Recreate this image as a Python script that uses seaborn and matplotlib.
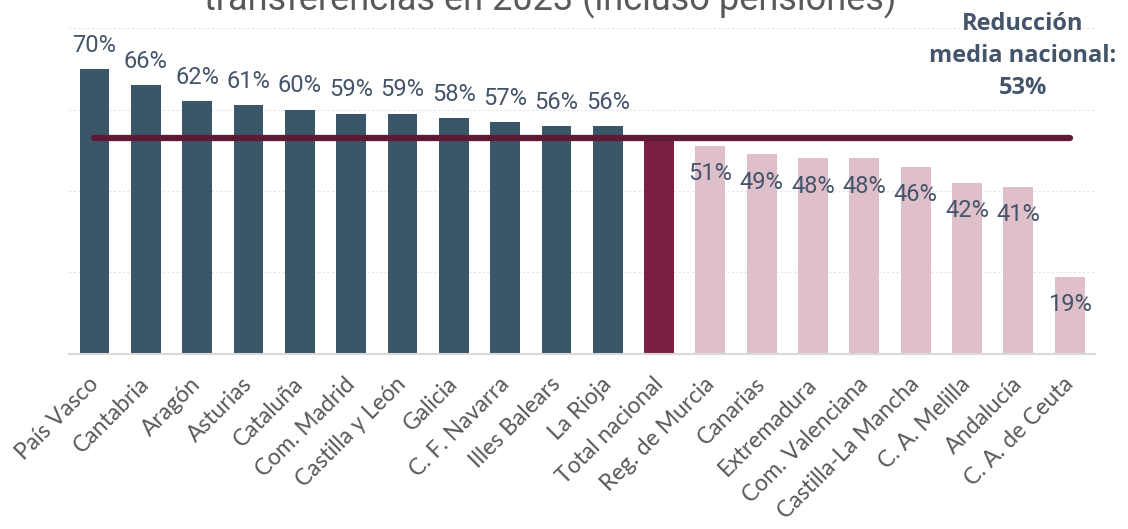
import matplotlib
matplotlib.use("Agg")
import matplotlib.pyplot as plt
import matplotlib.transforms as mtransforms
import seaborn as sns
import pandas as pd

regions = ["País Vasco", "Cantabria", "Aragón", "Asturias", "Cataluña", "Com. Madrid",
           "Castilla y León", "Galicia", "C. F. Navarra", "Illes Balears", "La Rioja",
           "Total nacional", "Reg. de Murcia", "Canarias", "Extremadura", "Com. Valenciana",
           "Castilla-La Mancha", "C. A. Melilla", "Andalucía", "C. A. de Ceuta"]
values = [70, 66, 62, 61, 60, 59, 59, 58, 57, 56, 56, 53, 51, 49, 48, 48, 46, 42, 41, 19]
national_label = "Total nacional"
title_text = "transferencias en 2023 (incluso pensiones)"
annot_text = "Reducción\nmedia nacional:\n53%"

DARK = "#3B5668"
TOTAL = "#7B1F45"
PINK = "#DFC0CA"
LINE = "#5E1934"
LABEL = "#44546A"

sns.set_theme(style="white")
plt.rcParams["font.family"] = ["Roboto", "DejaVu Sans"]

df = pd.DataFrame({"region": regions, "value": values})
nat_val = df.loc[df.region == national_label, "value"].iloc[0]
palette = {}
for r, v in zip(regions, values):
    if r == national_label:
        palette[r] = TOTAL
    elif v > nat_val:
        palette[r] = DARK
    else:
        palette[r] = PINK

fig = plt.figure(figsize=(11.28, 5.29), dpi=100)
ax = fig.add_axes([0.061, 0.331, 0.910, 0.616])

sns.barplot(data=df, x="region", y="value", hue="region", palette=palette,
            legend=False, width=0.58, ax=ax, saturation=1, edgecolor="none")

ax.set_ylim(0, 80)
ax.set_xlim(-0.5, len(regions) - 0.5)
ax.set_yticks([20, 40, 60, 80])
ax.yaxis.grid(True, color="#E4E4E4", linestyle=(0, (2, 2)), linewidth=0.8)
ax.set_axisbelow(True)
ax.tick_params(axis="y", left=False, labelleft=False)
ax.tick_params(axis="x", bottom=False, pad=8)
for s in ["top", "right", "left"]:
    ax.spines[s].set_visible(False)
ax.spines["bottom"].set_color("#D9D9D9")
ax.spines["bottom"].set_linewidth(1.5)
ax.set_xlabel("")
ax.set_ylabel("")
ax.set_xticks(range(len(regions)))
ax.set_xticklabels(regions, rotation=45, ha="right", rotation_mode="anchor",
                   fontsize=16.5, color="#595959", family=["Lato", "DejaVu Sans"])
shift = mtransforms.ScaledTranslation(-0.07, 0, fig.dpi_scale_trans)
for lab in ax.get_xticklabels():
    lab.set_transform(lab.get_transform() + shift)

# value labels
for i, (r, v) in enumerate(zip(regions, values)):
    if r == national_label:
        continue
    off = 17 if v > nat_val else -20
    ax.annotate(f"{v}%", (i, v), xytext=(0, off), textcoords="offset points",
                ha="center", va="center", fontsize=17, color=LABEL)

# national average line
ax.plot([0, len(regions) - 1], [nat_val, nat_val], color=LINE, linewidth=4.5,
        solid_capstyle="round", zorder=5)

fig.text(0.488, 1.0, title_text, ha="center", va="center", fontsize=26,
         color="#595959", family=["Roboto", "DejaVu Sans"])
fig.text(0.907, 0.894, annot_text, ha="center", va="center", fontsize=17,
         fontweight="bold", color=LABEL, linespacing=1.45,
         family=["Open Sans", "DejaVu Sans"])

fig.savefig("out.png", dpi=100)
